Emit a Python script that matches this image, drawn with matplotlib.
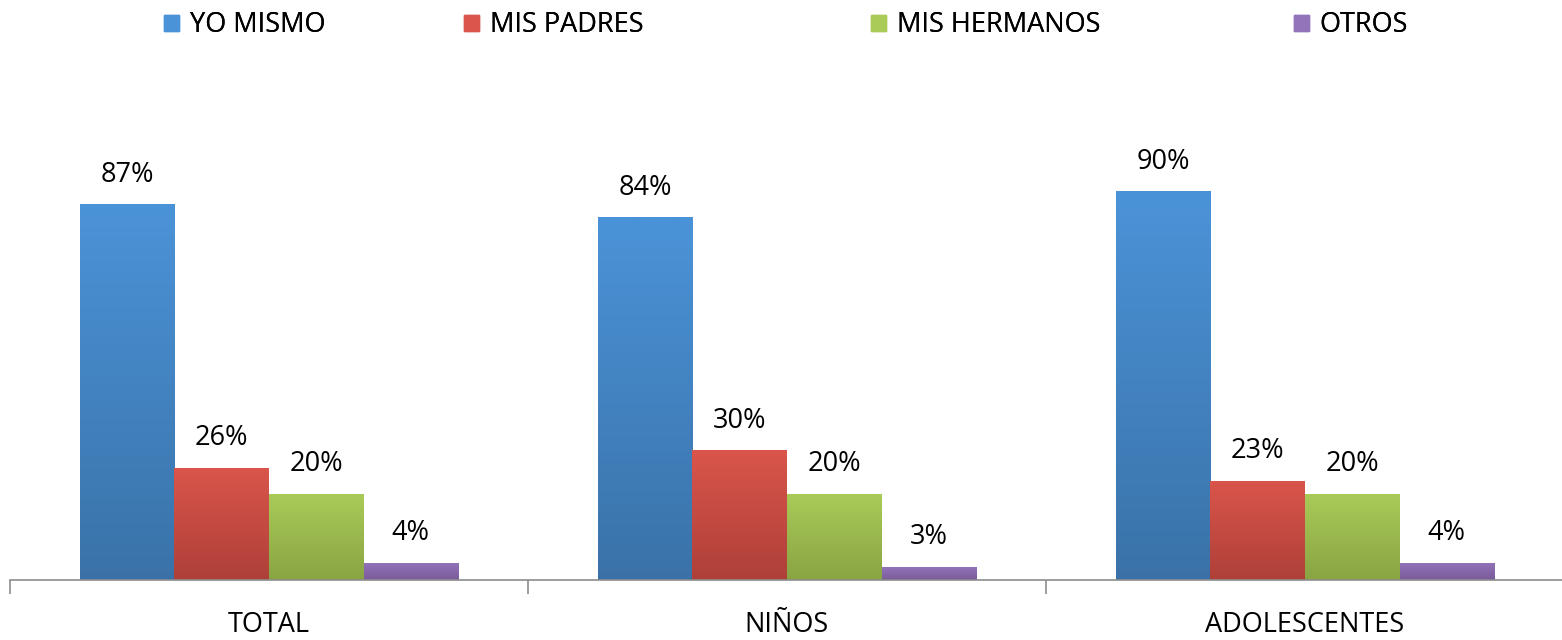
import numpy as np
import matplotlib
matplotlib.use('Agg')
import matplotlib.pyplot as plt
from matplotlib.colors import LinearSegmentedColormap

groups = ['TOTAL', 'NIÑOS', 'ADOLESCENTES']
series = ['YO MISMO', 'MIS PADRES', 'MIS HERMANOS', 'OTROS']
yo_mismo = [87, 84, 90]
mis_padres = [26, 30, 23]
mis_hermanos = [20, 20, 20]
otros = [4, 3, 4]
values = [yo_mismo, mis_padres, mis_hermanos, otros]

# (top colour, bottom colour) for the gradient fill
grad = [('#4b93d8', '#3a72a8'),
        ('#da554b', '#ae4039'),
        ('#aacb58', '#89a443'),
        ('#9373ba', '#7a5b99')]

# left edge (px) of each legend entry, Excel spaces them unevenly
legend_x = [163, 463, 870, 1293]

plt.rcParams['font.family'] = ['Open Sans', 'DejaVu Sans']

fig = plt.figure(figsize=(15.62, 6.4), dpi=100)
ax = fig.add_axes([10 / 1562, 60 / 640, 1554 / 1562, 432 / 640])

x = np.arange(len(groups))
w = 0.1825
grad_img = np.linspace(0, 1, 256).reshape(-1, 1)

handles = []
for i, (name, vals) in enumerate(zip(series, values)):
    pos = x + (i - 1.5) * w
    cmap = LinearSegmentedColormap.from_list(name, [grad[i][1], grad[i][0]])
    bars = ax.bar(pos, vals, width=w, color=grad[i][0], edgecolor='none',
                  label=name, zorder=2)
    for b in bars:
        b.set_alpha(0)
        im = ax.imshow(grad_img, cmap=cmap, aspect='auto', origin='lower',
                       extent=[b.get_x(), b.get_x() + b.get_width(), 0, b.get_height()],
                       zorder=2)
        im.set_clip_path(b)
        ax.text(b.get_x() + b.get_width() / 2, b.get_height() + 3.6,
                f'{b.get_height():.0f}%', ha='center', va='bottom',
                fontsize=19.5, color='black')
    proxy = plt.Rectangle((0, 0), 1, 1, color=grad[i][0])
    handles.append(proxy)

ax.set_xlim(-0.5, 2.5)
ax.set_ylim(0, 100)

for s in ['top', 'right', 'left']:
    ax.spines[s].set_visible(False)
ax.spines['bottom'].set_color('#8c8c8c')
ax.spines['bottom'].set_linewidth(1.2)
ax.set_yticks([])

ax.set_xticks([-0.5, 0.5, 1.5, 2.5])
ax.set_xticklabels([])
ax.set_xticks(x, minor=True)
ax.set_xticklabels(groups, minor=True, fontsize=19.5)
ax.tick_params(axis='x', which='major', length=10, width=1.2, color='#8c8c8c')
ax.tick_params(axis='x', which='minor', length=0, pad=22)

for h, name, lx in zip(handles, series, legend_x):
    leg = fig.legend([h], [name], loc='upper left',
                     bbox_to_anchor=((lx - 18) / 1562, 1.012),
                     frameon=False, fontsize=19.5, handlelength=0.55,
                     handleheight=0.55, handletextpad=0.4, borderaxespad=0.3)
    fig.add_artist(leg)

fig.savefig('out.png', dpi=100, facecolor='white')
